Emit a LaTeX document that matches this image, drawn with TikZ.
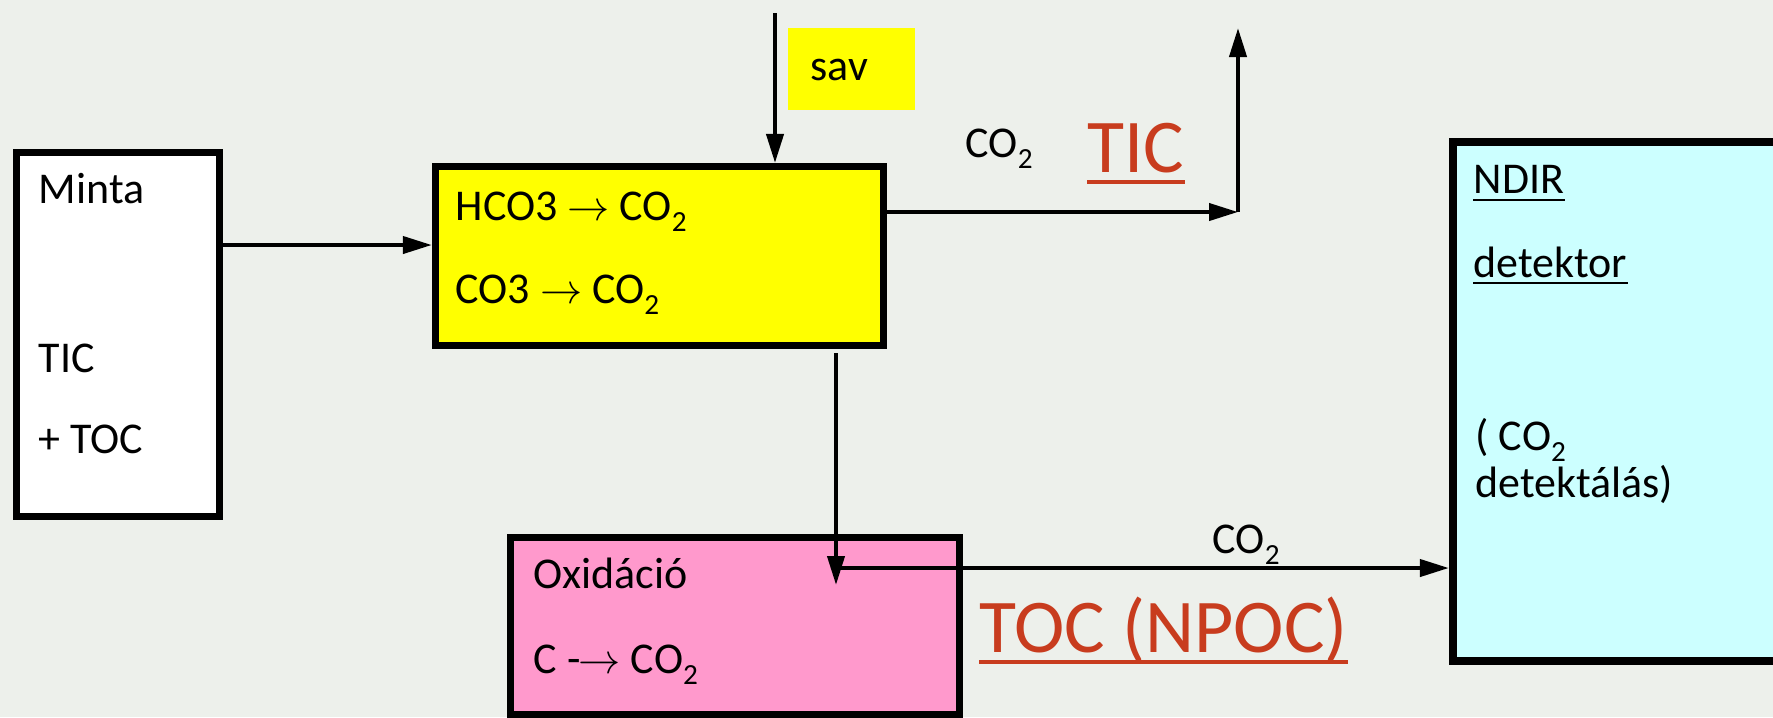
\documentclass[tikz,border=0pt]{standalone}
\usepackage{fontspec}
\setmainfont{Carlito}
\usetikzlibrary{arrows.meta}
\definecolor{bgc}{RGB}{237,240,235}
\definecolor{yel}{RGB}{255,255,0}
\definecolor{pinkc}{RGB}{255,153,204}
\definecolor{cyanc}{RGB}{204,255,255}
\definecolor{redc}{RGB}{200,60,30}
\newcommand{\lowtwo}{\raisebox{-0.27em}{\fontsize{8.3pt}{10pt}\selectfont 2}}
\begin{document}
\begin{tikzpicture}[x=0.01cm,y=-0.01cm,
  box/.style={draw=black, line width=2.13pt, inner sep=0pt},
  txt/.style={inner sep=0pt, anchor=base west, font=\fontsize{12.5pt}{15pt}\selectfont},
  redtxt/.style={inner sep=0pt, anchor=base west, text=redc, font=\fontsize{21.6pt}{26pt}\selectfont},
  arr/.style={line width=1.15pt, -{Triangle[length=0.29cm,width=0.17cm]}},
  ulred/.style={draw=redc, line width=1.1pt},
  ulblack/.style={draw=black, line width=0.7pt}]
\clip (0,0) rectangle (1773,717);
\fill[bgc] (0,0) rectangle (1773,717);

% boxes
\node[box, fill=white, minimum width=2.025cm, minimum height=3.635cm] (minta) at (118,334.5) {};
\node[box, fill=yel, minimum width=4.475cm, minimum height=1.785cm] (acid) at (659.5,256) {};
\node[fill=yel, inner sep=0pt, minimum width=1.27cm, minimum height=0.82cm] (savbox) at (851.5,69) {};
\node[box, fill=pinkc, minimum width=4.485cm, minimum height=1.765cm] (ox) at (735,626) {};
\node[box, line width=2.27pt, fill=cyanc, minimum width=4.43cm, minimum height=5.19cm] (ndir) at (1674.5,401.5) {};

% texts
\node[txt] (t1) at (38,203) {Minta};
\node[txt] (t2) at (38,372) {TIC};
\node[txt] (t3) at (38,453) {+ TOC};
\node[txt] (t4) at (455,220) {HCO3 $\rightarrow$ CO\lowtwo};
\node[txt] (t5) at (455,303) {CO3 $\rightarrow$ CO\lowtwo};
\node[txt] (t6) at (810,80) {sav};
\node[txt] (t7) at (965,157) {CO\lowtwo};
\node[redtxt] (tic) at (1087,172) {TIC};
\node[txt] (t8) at (533,588) {Oxidáció};
\node[txt] (t9) at (533,673) {C -\kern-0.5pt$\rightarrow$ CO\lowtwo};
\node[txt] (t10) at (1212,553) {CO\lowtwo};
\node[redtxt] (toc) at (979,652) {TOC (NPOC)};
\node[txt] (nd1) at (1473,193) {NDIR};
\node[txt] (nd2) at (1473,277) {detektor};
\node[txt] (nd3) at (1475,450) {( CO\lowtwo};
\node[txt] (nd4) at (1475,497) {detektálás)};

% underlines
\draw[ulred] ([yshift=-0.1cm]tic.base west) -- ([yshift=-0.1cm]tic.base east);
\draw[ulred] ([yshift=-0.1cm]toc.base west) -- ([yshift=-0.1cm]toc.base east);
\draw[ulblack] ([yshift=-0.07cm]nd1.base west) -- ([yshift=-0.07cm]nd1.base east);
\draw[ulblack] ([yshift=-0.06cm]nd2.base west) -- ([yshift=-0.06cm]nd2.base east);

% connectors
\coordinate (a1) at (223,245);
\draw[arr] (minta.east |- a1) -- (acid.west |- a1);
\coordinate (savtop) at (775,13);
\draw[arr] (savtop) -- (savtop |- acid.north);
\coordinate (ticc) at (1238,212);
\coordinate (tictop) at (1238,28);
\draw[arr] (acid.east |- ticc) -- (ticc);
\draw[arr] (ticc) -- (tictop);
\coordinate (d1) at (836,353);
\coordinate (d2) at (836,585);
\draw[arr] (d1) -- (d2);
\coordinate (h1) at (836,568);
\draw[arr] (h1) -- (ndir.west |- h1);
\end{tikzpicture}
\end{document}
